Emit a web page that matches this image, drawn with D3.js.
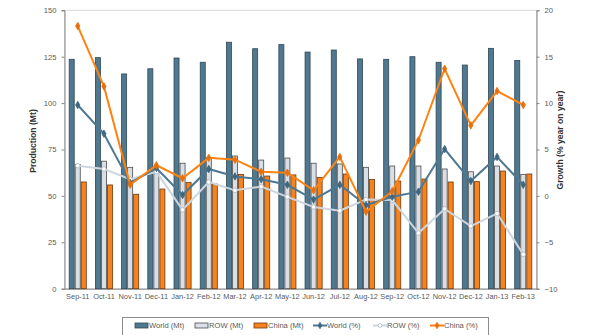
<!DOCTYPE html>
<html>
<head>
<meta charset="utf-8">
<script src="https://cdn.jsdelivr.net/npm/d3@7"></script>
<style>
  html, body { margin: 0; padding: 0; background: #fff; }
  svg { display: block; font-family: "Liberation Sans", Arial, sans-serif; }
</style>
</head>
<body>
<svg id="chart" width="595" height="335"></svg>
<script>
// months on the x axis
var months = ["Sep-11","Oct-11","Nov-11","Dec-11","Jan-12","Feb-12","Mar-12","Apr-12","May-12",
  "Jun-12","Jul-12","Aug-12","Sep-12","Oct-12","Nov-12","Dec-12","Jan-13","Feb-13"];

// production, Mt (left axis)
var worldMt = [123.6,124.5,115.7,118.5,124.3,122,132.8,129.3,131.5,127.5,128.6,123.8,123.6,125,122,120.5,129.5,123];
var rowMt   = [67,68.7,65.4,63.5,67.6,70.5,71.5,69.3,70.4,67.6,67.2,65.4,66.1,66.1,64.5,63,66.1,61.6];
var chinaMt = [57.5,55.9,50.9,53.7,57.3,56.4,61.6,60.7,61.3,60,61.8,58.9,58,59.1,57.5,57.7,63.4,61.8];

// growth, % year on year (right axis)
var worldPct = [9.8,6.7,1.4,3.0,0.1,2.9,2.1,1.8,1.2,-0.4,1.2,-1.0,-0.1,0.45,5.05,1.6,4.2,1.2];
var rowPct   = [3.25,2.9,1.8,2.6,-1.5,1.5,0.6,1.0,-0.1,-1.2,-1.6,-0.4,-0.45,-4.0,-1.4,-3.25,-1.9,-6.3];
var chinaPct = [18.3,11.8,1.2,3.3,1.9,4.1,3.9,2.6,2.5,0.6,4.2,-1.7,0.5,6.0,13.7,7.6,11.3,9.8];

var leftTicks = [0,25,50,75,100,125,150];
var rightTicks = [-10,-5,0,5,10,15,20];

var svg = d3.select("#chart");
var plot = {left: 64.5, right: 536.5, top: 10.3, bottom: 288.7};

var x = d3.scaleBand().domain(months).range([plot.left, plot.right]).paddingInner(0.31).paddingOuter(0.16);
var xc = function(m) { return x(m) + x.bandwidth() / 2; };
var sub = d3.scaleBand().domain(["world","row","china"]).range([0, x.bandwidth()]);
var yL = d3.scaleLinear().domain([0,150]).range([plot.bottom, plot.top]);
var yR = d3.scaleLinear().domain([-10,20]).range([plot.bottom, plot.top]);

var txt = "#595959";

// frame of the plot area
svg.append("rect").attr("x", plot.left).attr("y", plot.top)
  .attr("width", plot.right - plot.left).attr("height", plot.bottom - plot.top)
  .attr("fill", "none").attr("stroke", "#d9d9d9").attr("stroke-width", 1);

// axes
function styleAxis(g) {
  g.selectAll(".domain").attr("stroke", "#868686");
  g.selectAll(".tick line").attr("stroke", "#868686");
  g.selectAll(".tick text").attr("fill", txt).style("font-size", "7.6px");
}
svg.append("g").attr("transform", "translate(" + plot.left + ",0)")
  .call(d3.axisLeft(yL).tickValues(leftTicks).tickSize(3).tickPadding(5))
  .call(styleAxis);
svg.append("g").attr("transform", "translate(" + plot.right + ",0)")
  .call(d3.axisRight(yR).tickValues(rightTicks).tickSize(3).tickPadding(5))
  .call(styleAxis);
svg.append("g").attr("transform", "translate(0," + plot.bottom + ")")
  .call(d3.axisBottom(x).tickSize(0).tickPadding(5))
  .call(styleAxis)
  .call(function(g) { g.selectAll(".tick text").style("font-size", "7.4px"); });

// axis titles
svg.append("text").attr("transform", "translate(36,141) rotate(-90)")
  .attr("text-anchor", "middle").attr("fill", "#333").style("font-size", "8.6px").style("font-weight", "bold")
  .text("Production (Mt)");
svg.append("text").attr("transform", "translate(563,140) rotate(-90)")
  .attr("text-anchor", "middle").attr("fill", "#333").style("font-size", "8.6px").style("font-weight", "bold")
  .text("Growth (% year on year)");

// bars
var barSeries = [
  {key: "world", vals: worldMt, fill: "#50788f", stroke: "#2f4756"},
  {key: "row",   vals: rowMt,   fill: "#d9dfe6", stroke: "#4a4a4a"},
  {key: "china", vals: chinaMt, fill: "#f7831e", stroke: "#6b3a10"}
];
barSeries.forEach(function(s) {
  svg.append("g").selectAll("rect").data(s.vals).enter().append("rect")
    .attr("x", function(d, i) { return x(months[i]) + sub(s.key) + 0.5; })
    .attr("width", sub.bandwidth() - 1)
    .attr("y", function(d) { return yL(d); })
    .attr("height", function(d) { return yL(0) - yL(d); })
    .attr("fill", s.fill).attr("stroke", s.stroke).attr("stroke-width", 0.8);
});

// growth lines
var lineSeries = [
  {vals: rowPct,   color: "#cdd6df", mfill: "#fff",    mstroke: "#a9b4bf", shape: d3.symbolCircle},
  {vals: worldPct, color: "#4d7892", mfill: "#3f6780", mstroke: "#3f6780", shape: d3.symbolDiamond},
  {vals: chinaPct, color: "#ff820f", mfill: "#e8700a", mstroke: "#e8700a", shape: d3.symbolDiamond}
];
var line = d3.line().x(function(d, i) { return xc(months[i]); }).y(function(d) { return yR(d); });
lineSeries.forEach(function(s) {
  svg.append("path").datum(s.vals).attr("d", line)
    .attr("fill", "none").attr("stroke", s.color).attr("stroke-width", 2);
  svg.append("g").selectAll("path").data(s.vals).enter().append("path")
    .attr("transform", function(d, i) { return "translate(" + xc(months[i]) + "," + yR(d) + ")"; })
    .attr("d", d3.symbol().type(s.shape).size(16))
    .attr("fill", s.mfill).attr("stroke", s.mstroke).attr("stroke-width", 0.8);
});

// legend
var legend = svg.append("g");
legend.append("rect").attr("x", 122.5).attr("y", 317.5).attr("width", 366).attr("height", 30)
  .attr("fill", "#fff").attr("stroke", "#8c8c8c").attr("stroke-width", 1);
var legItems = [
  {label: "World (Mt)", x: 135, type: "bar", fill: "#50788f", stroke: "#2f4756"},
  {label: "ROW (Mt)",   x: 195, type: "bar", fill: "#d9dfe6", stroke: "#4a4a4a"},
  {label: "China (Mt)", x: 254, type: "bar", fill: "#f7831e", stroke: "#6b3a10"},
  {label: "World (%)",  x: 313, type: "line", s: lineSeries[1]},
  {label: "ROW (%)",    x: 373, type: "line", s: lineSeries[0]},
  {label: "China (%)",  x: 430, type: "line", s: lineSeries[2]}
];
var ly = 325.5;
legItems.forEach(function(it) {
  if (it.type === "bar") {
    legend.append("rect").attr("x", it.x).attr("y", ly - 2.5).attr("width", 13).attr("height", 5)
      .attr("fill", it.fill).attr("stroke", it.stroke).attr("stroke-width", 0.8);
  } else {
    legend.append("line").attr("x1", it.x).attr("x2", it.x + 14).attr("y1", ly).attr("y2", ly)
      .attr("stroke", it.s.color).attr("stroke-width", 2);
    legend.append("path").attr("transform", "translate(" + (it.x + 7) + "," + ly + ")")
      .attr("d", d3.symbol().type(it.s.shape).size(12))
      .attr("fill", it.s.mfill).attr("stroke", it.s.mstroke).attr("stroke-width", 0.8);
  }
  legend.append("text").attr("x", it.x + 14).attr("y", ly).attr("dy", "0.35em")
    .attr("fill", txt).style("font-size", "7.6px").text(it.label);
});
</script>
</body>
</html>
